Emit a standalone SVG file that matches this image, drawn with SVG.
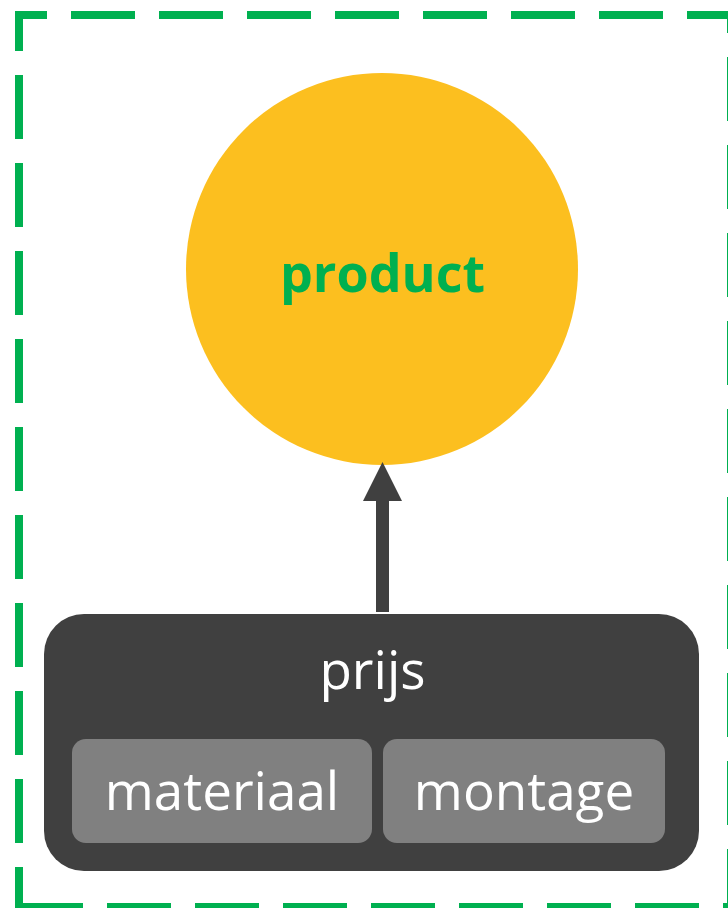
<svg xmlns="http://www.w3.org/2000/svg" width="728" height="908" viewBox="0 0 728 908">
  <style>
    .border { stroke: #00B050; stroke-width: 8; fill: none; stroke-dasharray: 64 24; }
    .lbl { font-family: "Open Sans", "Liberation Sans", sans-serif; text-anchor: middle; }
    .white { fill: #FFFFFF; font-size: 53px; }
  </style>
  <rect width="728" height="908" fill="#FFFFFF"/>
  <g id="frame">
    <line class="border" x1="15" y1="15" x2="735" y2="15" stroke-dashoffset="32"/>
    <line class="border" x1="19" y1="11" x2="19" y2="911" stroke-dashoffset="24"/>
    <line class="border" x1="15" y1="907" x2="735" y2="907" stroke-dashoffset="-4"/>
    <line class="border" x1="731" y1="11" x2="731" y2="911" stroke-dashoffset="42"/>
  </g>
  <g id="product">
    <circle cx="382" cy="269" r="196" fill="#FCBF1F"/>
    <text class="lbl" x="382.5" y="292" font-size="52" font-weight="bold" fill="#00B050">product</text>
  </g>
  <g id="connectors">
    <line x1="382.5" y1="612" x2="382.5" y2="498" stroke="#404040" stroke-width="13"/>
    <polygon points="382.5,462 402,501 363,501" fill="#404040"/>
  </g>
  <g id="prijs">
    <rect x="44" y="614" width="655" height="257" rx="40" fill="#404040"/>
    <text class="lbl white" x="372.5" y="689">prijs</text>
  </g>
  <g id="materiaal">
    <rect x="72" y="739" width="300" height="104" rx="14" fill="#808080"/>
    <text class="lbl white" x="222" y="810">materiaal</text>
  </g>
  <g id="montage">
    <rect x="383" y="739" width="282" height="104" rx="14" fill="#808080"/>
    <text class="lbl white" x="524" y="810">montage</text>
  </g>
</svg>
